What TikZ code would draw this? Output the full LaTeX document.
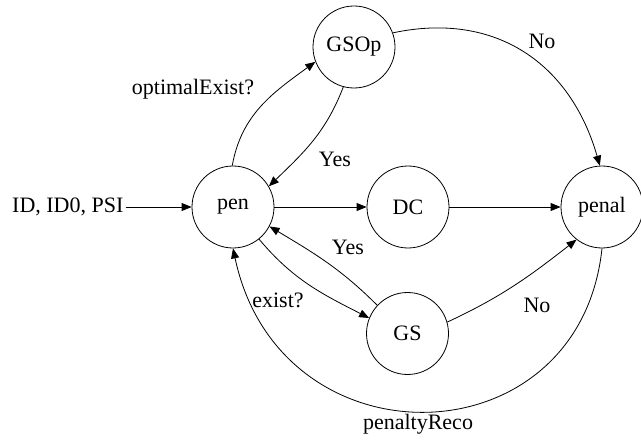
\documentclass[tikz,border=0pt]{standalone}
\usepackage{fontspec}
\setmainfont{Liberation Serif}
\usetikzlibrary{arrows.meta}
\begin{document}
\begin{tikzpicture}[x=1pt,y=1pt,
  state/.style={draw,circle,line width=0.8pt,minimum size=82pt,inner sep=0pt,font=\fontsize{22}{26}\selectfont},
  lbl/.style={inner sep=0pt,font=\fontsize{22}{26}\selectfont},
  edge/.style={line width=0.8pt,-{Triangle[length=10pt,width=8pt]}}]
\useasboundingbox (0,0) rectangle (641,440);
\node[state] (pen) at (233,233) {pen};
\node[state] (GSOp) at (354,393) {GSOp};
\node[state] (DC) at (408,233) {DC};
\node[state] (penal) at (602,233) {penal};
\node[state] (GS) at (407.5,106.5) {GS};
\node[lbl,anchor=west] (in) at (12,233) {ID, ID0, PSI};
\draw[edge] ([xshift=2pt]in.east) -- (pen.west);
\draw[edge] (pen.east) -- (DC.west);
\draw[edge] (DC.east) -- (penal.west);
\draw[edge] (pen.91) to[out=80,in=216] (GSOp.201);
\draw[edge] (GSOp.255) to[out=249,in=44] (pen.30);
\draw[edge] (GSOp.20) to[out=12,in=106,looseness=1.1] (penal.93);
\draw[edge] (pen.-51) to[out=-50,in=153] (GS.158);
\draw[edge] (GS.137) to[out=135,in=-31] (pen.-28);
\draw[edge] (GS.16) to[out=25,in=218] (penal.232);
\draw[edge] (penal.south) .. controls +(-96:215) and +(-78:225) .. (pen.south);
\node[lbl] (l1) at (193,351) {optimalExist?};
\node[lbl] (l2) at (335,281) {Yes};
\node[lbl] (l3) at (542,399) {No};
\node[lbl] (l4) at (348,193) {Yes};
\node[lbl] (l5) at (278,140) {exist?};
\node[lbl] (l6) at (537,135) {No};
\node[lbl] (l7) at (418,16) {penaltyReco};
\end{tikzpicture}
\end{document}
